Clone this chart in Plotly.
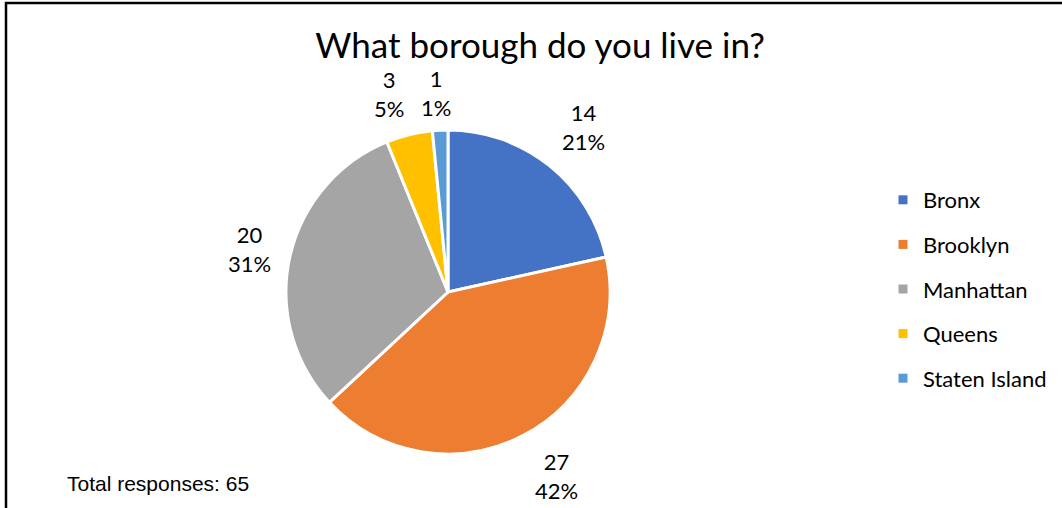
import math
import plotly.graph_objects as go

# ---- data ----
categories = ["Bronx", "Brooklyn", "Manhattan", "Queens", "Staten Island"]
counts = [14, 27, 20, 3, 1]
pct_labels = ["21%", "42%", "31%", "5%", "1%"]
colors = ["#4472C4", "#ED7D31", "#A5A5A5", "#FFC000", "#5B9BD5"]
title_text = "What borough do you live in?"
note_text = "Total responses: 65"

# ---- layout constants (pixels) ----
W, H = 1062, 508
cx, cy, R = 448, 292, 162  # pie centre / radius
label_r = 210
label_nudge_px = [(4, -1), (11, -2), (7, 2), (-9, 6), (-2, 11)]

fig = go.Figure()
fig.add_trace(go.Pie(
    labels=categories, values=counts, sort=False, direction="clockwise",
    rotation=0, marker=dict(colors=colors, line=dict(color="white", width=3)),
    textinfo="none", hoverinfo="label+value+percent", showlegend=False,
    domain=dict(x=[(cx - R) / W, (cx + R) / W],
                y=[(H - cy - R) / H, (H - cy + R) / H]),
))

# legend entries (square swatches)
for cat, col in zip(categories, colors):
    fig.add_trace(go.Scatter(
        x=[None], y=[None], mode="markers", name=cat, legendgroup=cat,
        marker=dict(symbol="square", size=9, color=col), showlegend=True,
    ))

# data labels placed at the mid-angle of each slice
total = sum(counts)
annotations = []
cum = 0
for v, p, (ndx, ndy) in zip(counts, pct_labels, label_nudge_px):
    mid = (cum + v / 2) / total * 2 * math.pi
    cum += v
    px = cx + label_r * math.sin(mid) + ndx
    py = cy - label_r * math.cos(mid) + ndy
    annotations.append(dict(
        x=px / W, y=1 - py / H, xref="paper", yref="paper",
        text=f"{v}<br>{p}", showarrow=False, xanchor="center", yanchor="middle",
        font=dict(family="Lato", size=22, color="#000000"), align="center",
    ))

annotations.append(dict(
    x=65 / W, y=1 - 483 / H, xref="paper", yref="paper", text=note_text,
    showarrow=False, xanchor="left", yanchor="middle",
    font=dict(family="Liberation Sans", size=21, color="#000000"),
))

fig.update_layout(
    width=W, height=H,
    margin=dict(l=0, r=0, t=0, b=0),
    paper_bgcolor="white", plot_bgcolor="white",
    title=dict(text=title_text, x=540 / W, xanchor="center", y=1 - 46 / H,
               yanchor="middle", font=dict(family="Lato", size=35, color="#000000")),
    xaxis=dict(visible=False), yaxis=dict(visible=False),
    legend=dict(x=883 / W, y=1 - 179 / H, xanchor="left", yanchor="top",
                font=dict(family="Lato", size=22, color="#000000"),
                tracegroupgap=13, itemwidth=30, bgcolor="rgba(0,0,0,0)"),
    annotations=annotations,
    shapes=[dict(type="rect", xref="paper", yref="paper",
                 x0=6 / W, x1=1.05, y0=-0.05, y1=1 - 3 / H,
                 line=dict(color="black", width=2.5))],
)

fig.write_html("out.html")
